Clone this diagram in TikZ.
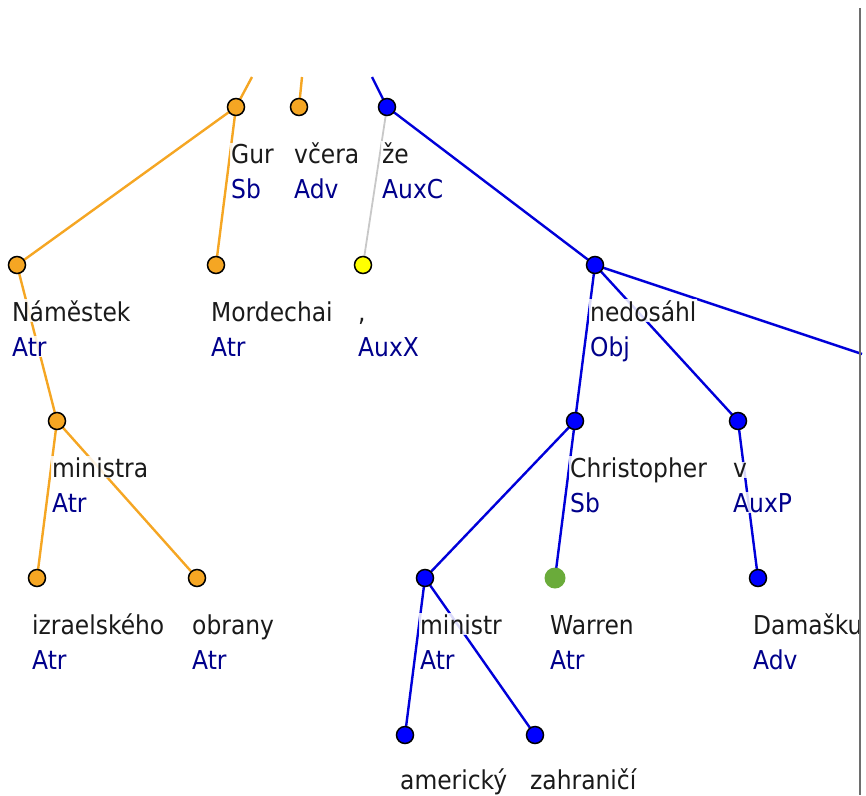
\documentclass[tikz,border=0pt]{standalone}
\usepackage{fontspec}
\setmainfont{DejaVu Sans}[FakeStretch=0.9]
\usetikzlibrary{backgrounds}
\definecolor{treeorange}{HTML}{F5A623}
\definecolor{treeblue}{HTML}{0000FF}
\definecolor{treeyellow}{HTML}{FFFF00}
\definecolor{treegreen}{HTML}{6AAB3A}
\definecolor{edgegray}{HTML}{C8C8C8}
\definecolor{funcblue}{HTML}{00008B}
\definecolor{wordtext}{HTML}{1A1A1A}
\definecolor{borderline}{HTML}{6E6E6E}
\tikzset{
  dot/.style={circle,draw=black,line width=1.5pt,minimum size=17pt,inner sep=0pt},
  orangedot/.style={dot,fill=treeorange},
  bluedot/.style={dot,fill=treeblue},
  yellowdot/.style={dot,fill=treeyellow},
  greendot/.style={circle,fill=treegreen,minimum size=21pt,inner sep=0pt},
  wordlbl/.style={anchor=base west,fill=white,fill opacity=0.85,text opacity=1,inner sep=1pt,font=\fontsize{26}{35}\selectfont,text=wordtext},
  funclbl/.style={wordlbl,text=funcblue},
  orangeedge/.style={treeorange,line width=2.4pt},
  blueedge/.style={treeblue!85!black,line width=2.4pt},
  grayedge/.style={edgegray,line width=1.8pt}
}

\begin{document}
\begin{tikzpicture}[x=1pt,y=-1pt]
  \useasboundingbox (0,0) rectangle (866,795);

  % dots, row by row
  \node[orangedot] (gur) at (236,107) {};
  \node[orangedot] (vcera) at (299,107) {};
  \node[bluedot] (ze) at (387,107) {};

  \node[orangedot] (namestek) at (17,265) {};
  \node[orangedot] (mordechai) at (216,265) {};
  \node[yellowdot] (comma) at (363,265) {};
  \node[bluedot] (nedosahl) at (595,265) {};

  \node[orangedot] (ministra) at (57,421) {};
  \node[bluedot] (christopher) at (575,421) {};
  \node[bluedot] (v) at (738,421) {};

  \node[orangedot] (izraelskeho) at (37,578) {};
  \node[orangedot] (obrany) at (197,578) {};
  \node[bluedot] (ministr) at (425,578) {};
  \node[greendot] (warren) at (555,578) {};
  \node[bluedot] (damasku) at (758,578) {};

  \node[bluedot] (americky) at (405,735) {};
  \node[bluedot] (zahranici) at (535,735) {};

  % words
  \node[wordlbl] (gurw) at (230,163) {Gur};
  \node[wordlbl] (vceraw) at (293,163) {včera};
  \node[wordlbl] (zew) at (381,163) {že};
  \node[wordlbl] (namestekw) at (11,321) {Náměstek};
  \node[wordlbl] (mordechaiw) at (210,321) {Mordechai};
  \node[wordlbl] (commaw) at (357,321) {,};
  \node[wordlbl] (nedosahlw) at (589,321) {nedosáhl};
  \node[wordlbl] (ministraw) at (51,477) {ministra};
  \node[wordlbl] (christopherw) at (569,477) {Christopher};
  \node[wordlbl] (vw) at (732,477) {v};
  \node[wordlbl] (izraelskehow) at (31,634) {izraelského};
  \node[wordlbl] (obranyw) at (191,634) {obrany};
  \node[wordlbl] (ministrw) at (419,634) {ministr};
  \node[wordlbl] (warrenw) at (549,634) {Warren};
  \node[wordlbl] (damaskuw) at (752,634) {Damašku};
  \node[wordlbl] (americkyw) at (399,789) {americký};
  \node[wordlbl] (zahranicitw) at (529,789) {zahraničí};

  % functions
  \node[funclbl] (gurf) at (230,198) {Sb};
  \node[funclbl] (vceraf) at (293,198) {Adv};
  \node[funclbl] (zef) at (381,198) {AuxC};
  \node[funclbl] (namestekf) at (11,356) {Atr};
  \node[funclbl] (mordechaif) at (210,356) {Atr};
  \node[funclbl] (commaf) at (357,356) {AuxX};
  \node[funclbl] (nedosahlf) at (589,356) {Obj};
  \node[funclbl] (ministraf) at (51,512) {Atr};
  \node[funclbl] (christopherf) at (569,512) {Sb};
  \node[funclbl] (vf) at (732,512) {AuxP};
  \node[funclbl] (izraelskehof) at (31,669) {Atr};
  \node[funclbl] (obranyf) at (191,669) {Atr};
  \node[funclbl] (ministrf) at (419,669) {Atr};
  \node[funclbl] (warrenf) at (549,669) {Atr};
  \node[funclbl] (damaskuf) at (752,669) {Adv};

  % loose ends of edges cut by the window
  \coordinate (gurup) at (252,77);
  \coordinate (vceraup) at (302,77);
  \coordinate (zeup) at (372,77);
  \coordinate (nedosahlout) at (862,354);

  \begin{scope}[on background layer]
    \draw[orangeedge] (gurup) -- (gur.center);
    \draw[orangeedge] (vceraup) -- (vcera.center);
    \draw[blueedge] (zeup) -- (ze.center);
    \draw[orangeedge] (gur.center) -- (namestek.center);
    \draw[orangeedge] (gur.center) -- (mordechai.center);
    \draw[grayedge] (ze.center) -- (comma.center);
    \draw[blueedge] (ze.center) -- (nedosahl.center);
    \draw[blueedge] (nedosahl.center) -- (nedosahlout);
    \draw[orangeedge] (namestek.center) -- (ministra.center);
    \draw[blueedge] (nedosahl.center) -- (christopher.center);
    \draw[blueedge] (nedosahl.center) -- (v.center);
    \draw[orangeedge] (ministra.center) -- (izraelskeho.center);
    \draw[orangeedge] (ministra.center) -- (obrany.center);
    \draw[blueedge] (christopher.center) -- (ministr.center);
    \draw[blueedge] (christopher.center) -- (warren.center);
    \draw[blueedge] (v.center) -- (damasku.center);
    \draw[blueedge] (ministr.center) -- (americky.center);
    \draw[blueedge] (ministr.center) -- (zahranici.center);
  \end{scope}

  % window border on the right
  \draw[borderline,line width=2pt] (860,8) -- (860,795);
\end{tikzpicture}
\end{document}
